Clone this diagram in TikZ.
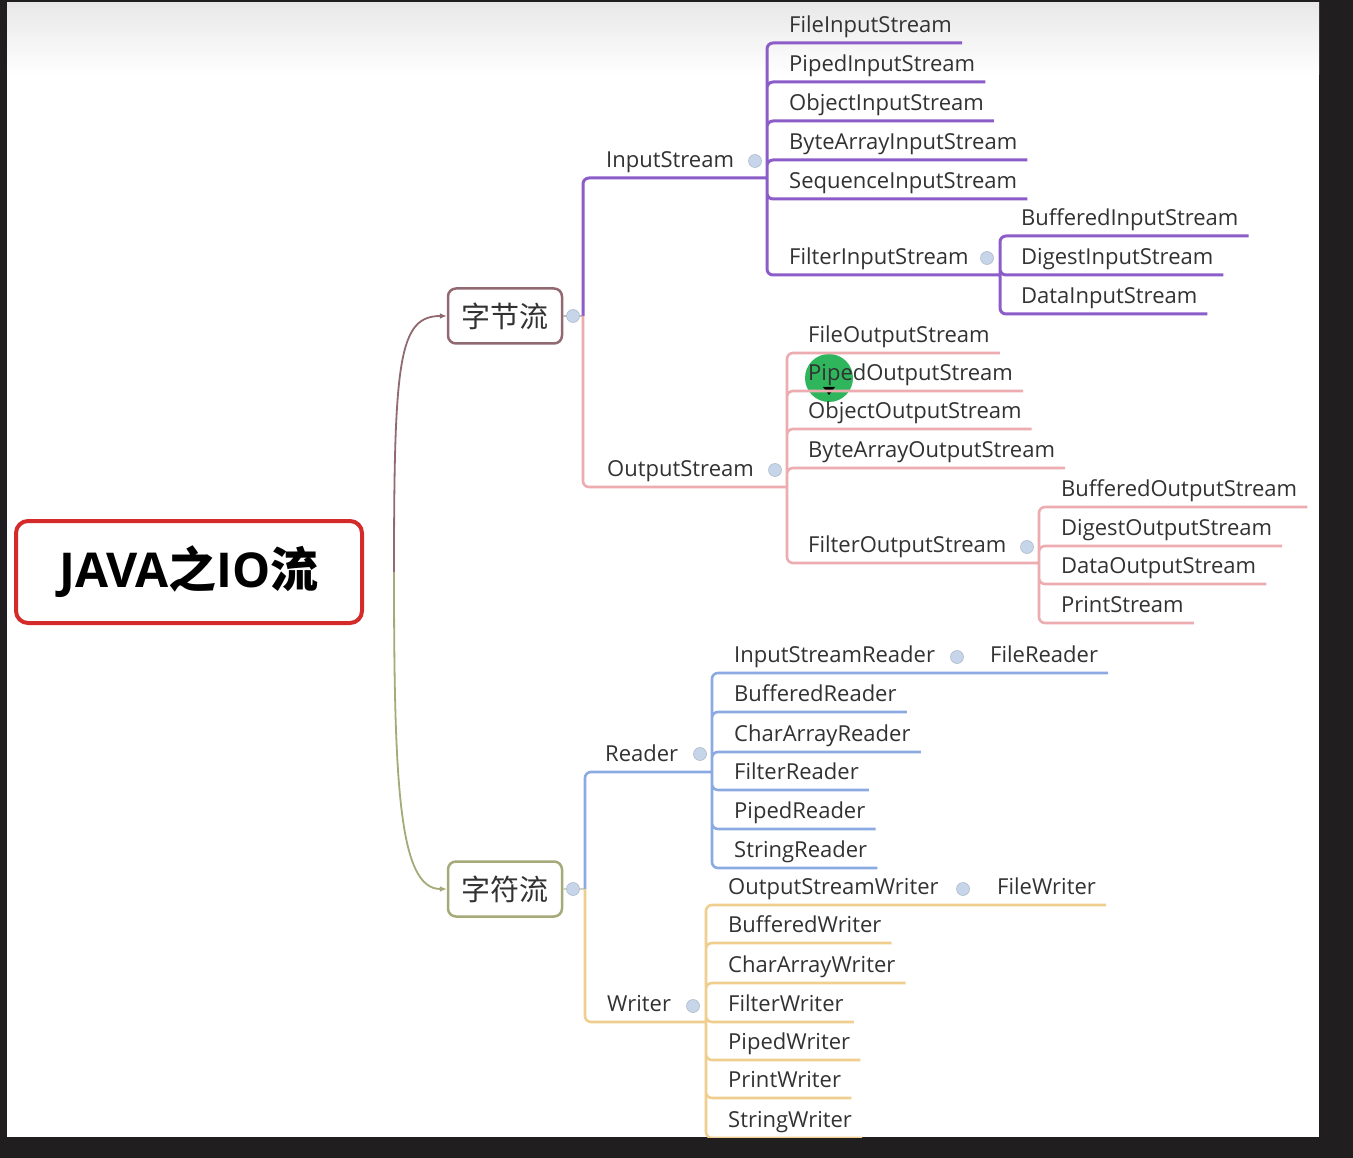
\documentclass[tikz,border=0pt]{standalone}
\usepackage{fontspec}
\setmainfont{Open Sans}
\newfontfamily\cjk{Noto Sans CJK SC}
\usetikzlibrary{positioning,arrows.meta}
\definecolor{cframe}{RGB}{32,30,30}
\definecolor{ctext}{RGB}{50,50,50}
\definecolor{croot}{RGB}{212,42,42}
\definecolor{cbyte}{RGB}{145,105,112}
\definecolor{cchar}{RGB}{165,170,120}
\definecolor{cin}{RGB}{140,92,200}
\definecolor{cout}{RGB}{236,172,176}
\definecolor{crd}{RGB}{140,170,226}
\definecolor{cwr}{RGB}{240,206,142}
\definecolor{cfold}{RGB}{198,213,234}
\definecolor{ccursor}{RGB}{25,175,75}

\begin{document}
\begin{tikzpicture}[x=1pt,y=-1pt,
  font=\fontsize{22}{26}\selectfont,
  root/.style={draw=croot,line width=4pt,rounded corners=12pt,fill=white,minimum width=346pt,minimum height=102pt,font=\fontsize{48}{54}\selectfont\bfseries,text=black},
  sub/.style={line width=2.5pt,rounded corners=8pt,fill=white,minimum width=114pt,minimum height=55pt,font=\cjk\fontsize{29}{34}\selectfont,text=ctext},
  leaf/.style={anchor=south west,inner xsep=10pt,inner ysep=5pt,text height=15pt,text depth=5pt,text=ctext},
  fold/.style={circle,fill=cfold,draw=cfold!70!gray,line width=0.6pt,minimum size=13pt,inner sep=0pt},
  br/.style={line width=2.6pt,rounded corners=6pt},
  tie/.style={line width=1.8pt,-{Latex[length=7pt,width=6pt]}},
]
\useasboundingbox (0,0) rectangle (1353,1158);
\fill[cframe] (0,0) rectangle (1353,1158);
\fill[white] (7,3) rectangle (1319,1137);
\shade[top color=black!9,bottom color=white] (7,3) rectangle (1319,75);

\begin{scope}
\clip (7,3) rectangle (1319,1137);
% cursor highlight from the screen capture
\fill[ccursor,opacity=.9] (829,378) circle (24pt);
\fill[black] (823,387) -- (835,387) -- (829,395) -- cycle;

\node[root] (root) at (189,572) {JAVA{\cjk\bfseries 之}IO{\cjk\bfseries 流}};
\node[sub,draw=cbyte] (bytes) at (505,316) {字节流};
\node[sub,draw=cchar] (chars) at (505,889) {字符流};

% byte streams
\node[leaf] (is)   at (596,178)  {InputStream};
\node[leaf] (fis)  at (779,43)   {FileInputStream};
\node[leaf] (pis)  at (779,82)   {PipedInputStream};
\node[leaf] (ois)  at (779,121)  {ObjectInputStream};
\node[leaf] (bais) at (779,160)  {ByteArrayInputStream};
\node[leaf] (sqis) at (779,199)  {SequenceInputStream};
\node[leaf] (flis) at (779,275)  {FilterInputStream};
\node[leaf] (bfis) at (1011,236) {BufferedInputStream};
\node[leaf] (dgis) at (1011,275) {DigestInputStream};
\node[leaf] (dtis) at (1011,314) {DataInputStream};
\node[leaf] (os)   at (597,487)  {OutputStream};
\node[leaf] (fos)  at (798,353)  {FileOutputStream};
\node[leaf] (pos)  at (798,391)  {PipedOutputStream};
\node[leaf] (oos)  at (798,429)  {ObjectOutputStream};
\node[leaf] (baos) at (798,468)  {ByteArrayOutputStream};
\node[leaf] (flos) at (798,563)  {FilterOutputStream};
\node[leaf] (bfos) at (1051,507) {BufferedOutputStream};
\node[leaf] (dgos) at (1051,546) {DigestOutputStream};
\node[leaf] (dtos) at (1051,584) {DataOutputStream};
\node[leaf] (prs)  at (1051,623) {PrintStream};

% char streams
\node[leaf] (rd)   at (595,772)  {Reader};
\node[leaf] (isr)  at (724,673)  {InputStreamReader};
\node[leaf] (frd)  at (980,673)  {FileReader};
\node[leaf] (bfr)  at (724,712)  {BufferedReader};
\node[leaf] (car)  at (724,752)  {CharArrayReader};
\node[leaf] (flr)  at (724,790)  {FilterReader};
\node[leaf] (pdr)  at (724,829)  {PipedReader};
\node[leaf] (str)  at (724,868)  {StringReader};
\node[leaf] (wr)   at (597,1022) {Writer};
\node[leaf] (osw)  at (718,905)  {OutputStreamWriter};
\node[leaf] (fwr)  at (987,905)  {FileWriter};
\node[leaf] (bfw)  at (718,943)  {BufferedWriter};
\node[leaf] (caw)  at (718,983)  {CharArrayWriter};
\node[leaf] (flw)  at (718,1022) {FilterWriter};
\node[leaf] (pdw)  at (718,1060) {PipedWriter};
\node[leaf] (prw)  at (718,1098) {PrintWriter};
\node[leaf] (stw)  at (718,1138) {StringWriter};

\coordinate (rj)    at ([xshift=30pt]root.east);
\coordinate (bj)    at (583,316);
\coordinate (cj)    at (585,889);
\coordinate (isj)   at (767,178);
\coordinate (osj)   at (787,487);
\coordinate (flisj) at (1000,275);
\coordinate (flosj) at (1039,563);
\coordinate (rdj)   at (712,772);
\coordinate (wrj)   at (706,1022);

\draw[tie,cbyte] (rj) .. controls +(0,-212) and +(-48,0) .. (bytes.west);
\draw[tie,cchar] (rj) .. controls +(0,212) and +(-48,0) .. (chars.west);
\draw[line width=1.5pt,cbyte!50] (bytes.east) -- (bj);
\draw[line width=1.5pt,cchar!50] (chars.east) -- (cj);

\draw[br,cin,line width=3pt] (bj) |- (isj)
  (isj) |- (fis.south east) (isj) |- (pis.south east) (isj) |- (ois.south east)
  (isj) |- (bais.south east) (isj) |- (sqis.south east) (isj) |- (flisj)
  (flisj) |- (bfis.south east) (flisj) |- (dgis.south east) (flisj) |- (dtis.south east);
\draw[br,cout] (bj) |- (osj)
  (osj) |- (fos.south east) (osj) |- (pos.south east) (osj) |- (oos.south east)
  (osj) |- (baos.south east) (osj) |- (flosj)
  (flosj) |- (bfos.south east) (flosj) |- (dgos.south east)
  (flosj) |- (dtos.south east) (flosj) |- (prs.south east);
\draw[br,crd] (cj) |- (rdj)
  (rdj) |- (isr.south east) -- (frd.south east) (rdj) |- (bfr.south east)
  (rdj) |- (car.south east) (rdj) |- (flr.south east) (rdj) |- (pdr.south east)
  (rdj) |- (str.south east);
\draw[br,cwr] (cj) |- (wrj)
  (wrj) |- (osw.south east) -- (fwr.south east) (wrj) |- (bfw.south east)
  (wrj) |- (caw.south east) (wrj) |- (flw.south east) (wrj) |- (pdw.south east)
  (wrj) |- (prw.south east) (wrj) |- (stw.south east);

\node[fold] (bytesf) at (573,316) {};
\node[fold] (charsf) at (573,889) {};
\node[fold] (isf)    at (755,161) {};
\node[fold] (osf)    at (775,470) {};
\node[fold] (flisf)  at (987,258) {};
\node[fold] (flosf)  at (1027,547) {};
\node[fold] (rdf)    at (700,754) {};
\node[fold] (wrf)    at (693,1006) {};
\node[fold] (isrf)   at (957,657) {};
\node[fold] (oswf)   at (963,889) {};
\end{scope}
\end{tikzpicture}
\end{document}
